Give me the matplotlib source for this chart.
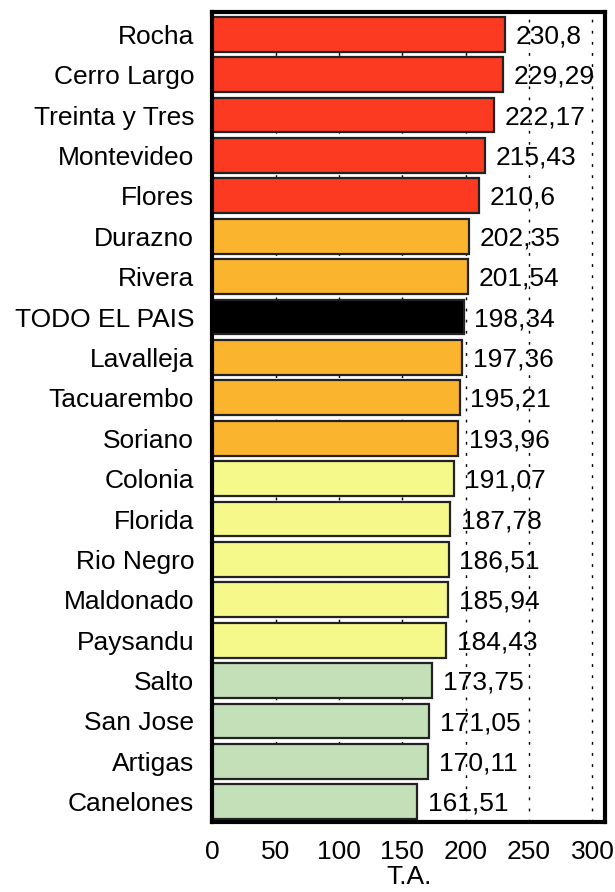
import matplotlib
matplotlib.use("Agg")
import matplotlib.pyplot as plt

departments = ["Rocha", "Cerro Largo", "Treinta y Tres", "Montevideo", "Flores",
               "Durazno", "Rivera", "TODO EL PAIS", "Lavalleja", "Tacuarembo",
               "Soriano", "Colonia", "Florida", "Rio Negro", "Maldonado",
               "Paysandu", "Salto", "San Jose", "Artigas", "Canelones"]
values = [230.8, 229.29, 222.17, 215.43, 210.6, 202.35, 201.54, 198.34, 197.36,
          195.21, 193.96, 191.07, 187.78, 186.51, 185.94, 184.43, 173.75, 171.05,
          170.11, 161.51]
labels = ["230,8", "229,29", "222,17", "215,43", "210,6", "202,35", "201,54",
          "198,34", "197,36", "195,21", "193,96", "191,07", "187,78", "186,51",
          "185,94", "184,43", "173,75", "171,05", "170,11", "161,51"]
groups = ["r", "r", "r", "r", "r", "o", "o", "k", "o", "o", "o",
          "y", "y", "y", "y", "y", "g", "g", "g", "g"]
xticks = [0, 50, 100, 150, 200, 250, 300]

palette = {"r": "#FC3A22", "o": "#FBB42E", "y": "#F5F98A", "g": "#C3E0B8", "k": "#000000"}

plt.rcParams["font.family"] = ["Liberation Sans", "DejaVu Sans"]
FS = 19

fig = plt.figure(figsize=(6.15, 8.92), dpi=100)
ax = fig.add_axes([0.345, 0.0785, 0.639, 0.908])

ypos = list(range(len(values)))
ax.barh(ypos, values, height=0.86, color=[palette[g] for g in groups],
        edgecolor="#222222", linewidth=1.6, zorder=3)
for y, v, t in zip(ypos, values, labels):
    ax.text(v + 8.5, y + 0.05, t, va="center", ha="left", fontsize=FS, zorder=4)

ax.set_xlim(0, 310)
ax.set_ylim(len(values) - 0.5, -0.55)
ax.set_yticks(ypos)
ax.set_yticklabels(departments, fontsize=FS)
ax.set_xticks(xticks)
ax.set_xticklabels([str(t) for t in xticks], fontsize=FS)
ax.set_xlabel("T.A.", fontsize=FS, labelpad=1)
for x in xticks[1:]:
    ax.axvline(x, color="black", linestyle=(0, (2, 6)), linewidth=1.0, zorder=1)
ax.tick_params(axis="y", length=0, pad=13)
ax.tick_params(axis="x", length=0, pad=13)
for s in ax.spines.values():
    s.set_linewidth(3)
    s.set_zorder(5)

fig.savefig("out.png", dpi=100)
